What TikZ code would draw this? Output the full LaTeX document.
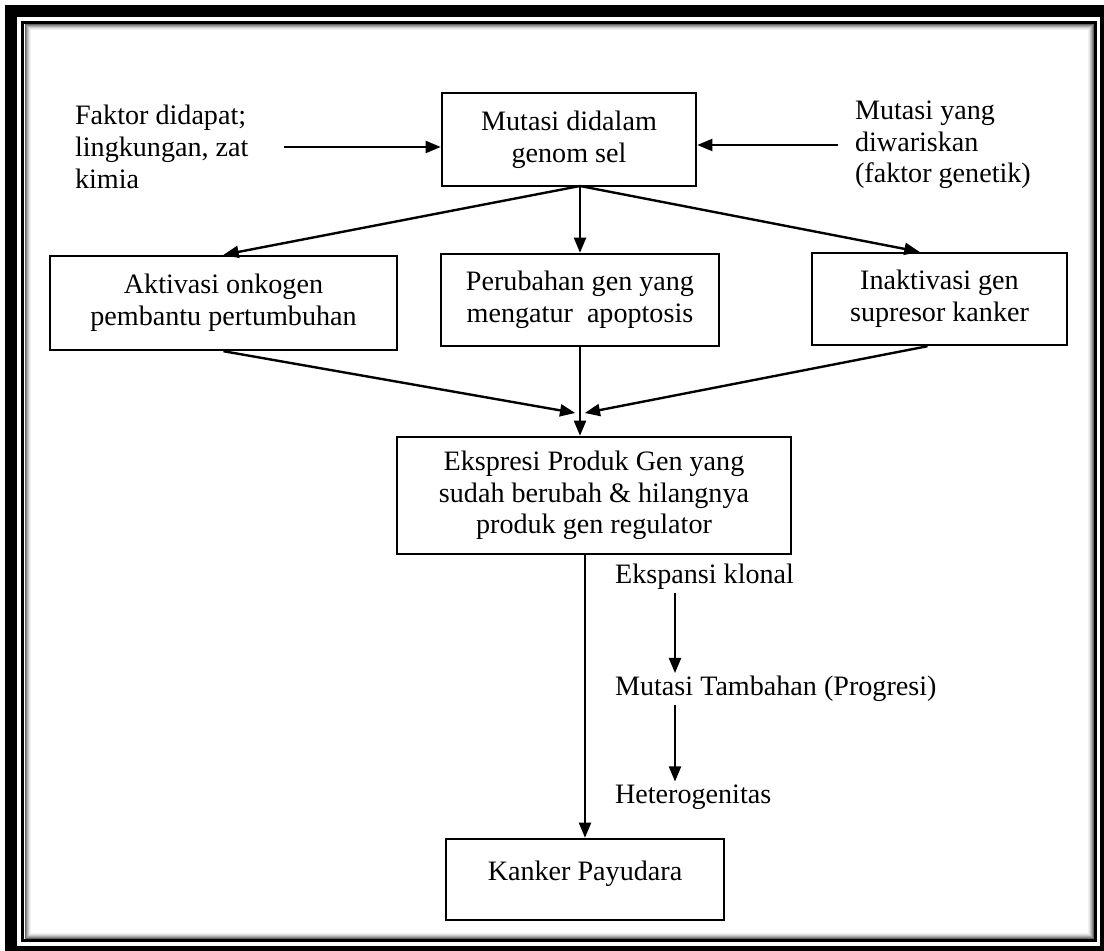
\documentclass[tikz,border=0pt]{standalone}
\usepackage{fontspec}
\setmainfont{Liberation Serif}
\usetikzlibrary{arrows.meta}
\tikzset{
  box/.style={draw=black,line width=1.7pt,align=center,inner sep=0pt},
  txt/.style={align=left,inner sep=2pt,anchor=west},
  arr/.style={line width=1.7pt,-{Triangle[length=0.38cm,width=0.3cm]}}
}

\begin{document}
\begin{tikzpicture}[x=0.025cm,y=-0.025cm,font=\fontsize{20}{22.5}\selectfont]
\useasboundingbox (0,0) rectangle (1104,951);
% frame
\fill[black] (5,5) rectangle (1104,951);
\fill[white] (17,17) rectangle (1100,946);
\draw[line width=0.075cm] (22.5,22.5) rectangle (1095.5,940.5);
\foreach \d/\g in {1/60,2/45,3/32,4/20,5/11,6/5}
  \draw[black!\g,line width=0.025cm] (24+\d,24+\d) rectangle (1094-\d,939-\d);

  \node[box,minimum width=6.35cm,minimum height=2.325cm] (mutasi) at (569,139.5) {Mutasi didalam\\genom sel};
  \node[txt] (faktor) at (72,147) {Faktor didapat;\\lingkungan, zat\\kimia};
  \node[txt] (waris) at (852,145) {Mutasi yang\\diwariskan\\(faktor genetik)};

  \node[box,minimum width=8.675cm,minimum height=2.35cm] (aktivasi) at (223.5,303) {Aktivasi onkogen\\pembantu pertumbuhan};
  \node[box,minimum width=6.95cm,minimum height=2.3cm] (perubahan) at (580,300) {Perubahan gen yang\\mengatur\ \ apoptosis};
  \node[box,minimum width=6.375cm,minimum height=2.3cm] (inaktivasi) at (939.5,299) {Inaktivasi gen\\supresor kanker};

  \node[box,minimum width=9.85cm,minimum height=2.925cm] (ekspresi) at (594,495.5) {Ekspresi Produk Gen yang\\sudah berubah \& hilangnya\\produk gen regulator};
  \node[box,minimum width=6.95cm,minimum height=2.025cm,text depth=0.45cm] (kanker) at (585,879.5) {Kanker Payudara};

  \node[txt] (ekspansi) at (612,577) {Ekspansi klonal};
  \node[txt] (tambahan) at (612,689) {Mutasi Tambahan (Progresi)};
  \node[txt] (hetero) at (612,797) {Heterogenitas};

  \coordinate (split) at (580,186);
  \coordinate (meet) at (580,413);
  \coordinate (lane) at (675,0);

  \draw[arr,shorten <=0.8cm] (faktor.east) -- (faktor.east -| mutasi.west);
  \draw[arr,shorten <=0.35cm] (waris.west) -- (waris.west -| mutasi.east);

  \foreach \to in {aktivasi, perubahan}
    \draw[arr] (split) -- (\to.north);
  \draw[arr] (split) -- ([xshift=-0.5cm]inaktivasi.north);

  \draw[arr] (aktivasi.south) -- ([xshift=-0.12cm]meet);
  \draw[arr] ([xshift=-0.3cm]inaktivasi.south) -- ([xshift=0.12cm]meet);
  \draw[arr] (perubahan.south) -- (perubahan.south |- ekspresi.north);

  \draw[arr] (kanker.north |- ekspresi.south) -- (kanker.north);
  \draw[arr] (ekspansi.south -| lane) -- (tambahan.north -| lane);
  \draw[arr] (tambahan.south -| lane) -- (hetero.north -| lane);
\end{tikzpicture}
\end{document}
